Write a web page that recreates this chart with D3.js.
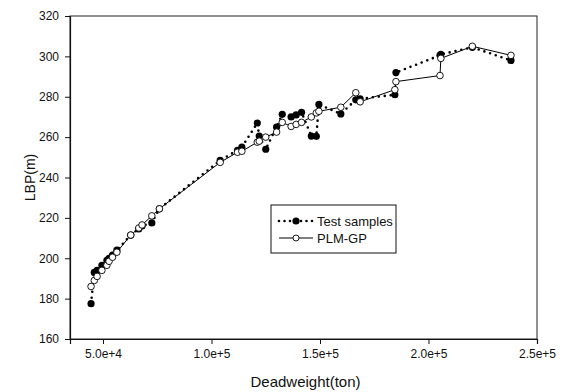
<!DOCTYPE html>
<html>
<head>
<meta charset="utf-8">
<script src="https://cdn.jsdelivr.net/npm/d3@7"></script>
<style>
  body { margin: 0; background: #fff; }
  svg { display: block; font-family: "Liberation Sans", Arial, sans-serif; }
</style>
</head>
<body>
<svg id="chart" width="566" height="392"></svg>
<script>
// values
const deadweight = [44500, 46000, 47300, 49500, 51800, 52800, 54400, 56400, 62800, 66500, 68000,
  72500, 76000, 104000, 112000, 114000, 121100, 122000, 125000, 130000, 132600, 136700, 139000,
  141500, 146000, 148300, 149500, 159600, 166500, 168500, 184500, 185000, 205300, 205700, 220200, 238000];
const testSamples = [177.5, 193, 194, 196.5, 199, 200, 201.5, 204, 211.5, 214.5, 216,
  217.5, 224.5, 248.5, 253.5, 255, 267, 260.5, 254, 265, 271.3, 270, 271,
  272.3, 260.5, 260.4, 276.2, 271.5, 278.5, 279, 281, 292, 300.5, 301, 304.5, 298];
const plmGp = [186, 189, 191, 194, 196.5, 198.5, 200.5, 203, 211.5, 215, 216.5,
  221, 224.5, 247.5, 252.5, 253, 257.5, 258, 260, 262.5, 267.3, 265.3, 266.3,
  267.3, 270, 272, 272.8, 274.8, 282, 277.5, 283.5, 287.5, 290.5, 299, 305, 300.5];

const xTicks = [50000, 100000, 150000, 200000, 250000];
const xTickLabels = [`5.0e+4`, `1.0e+5`, `1.5e+5`, `2.0e+5`, `2.5e+5`];
const yTicks = [160, 180, 200, 220, 240, 260, 280, 300, 320];
const legendLabels = [`Test samples`, `PLM-GP`];

const svg = d3.select(`#chart`);
const plot = { left: 70, right: 537, top: 16, bottom: 339 };

const x = d3.scaleLinear().domain([34800, 250000]).range([plot.left, plot.right]);
const y = d3.scaleLinear().domain([160, 320]).range([plot.bottom, plot.top]);

// frame
svg.append(`rect`)
  .attr(`x`, plot.left).attr(`y`, plot.top)
  .attr(`width`, plot.right - plot.left).attr(`height`, plot.bottom - plot.top)
  .attr(`fill`, `none`)
  .attr(`stroke`, `#222`)
  .attr(`stroke-width`, 1);

const xAxis = svg.append(`g`)
  .attr(`transform`, `translate(0,${plot.bottom})`)
  .call(d3.axisBottom(x).tickValues(xTicks).tickSize(5).tickPadding(5)
    .tickFormat((d, i) => xTickLabels[i]));
const yAxis = svg.append(`g`)
  .attr(`transform`, `translate(${plot.left},0)`)
  .call(d3.axisLeft(y).tickValues(yTicks).tickSize(5).tickPadding(6));

[xAxis, yAxis].forEach(g => {
  g.select(`.domain`).attr(`stroke`, `#111`).attr(`stroke-width`, 1.2);
  g.selectAll(`.tick line`).attr(`stroke`, `#111`);
  g.selectAll(`.tick text`)
    .attr(`fill`, `#111`)
    .style(`font-size`, `12px`)
    .style(`font-family`, `"Liberation Sans", Arial, sans-serif`);
});

svg.append(`text`)
  .attr(`x`, (plot.left + plot.right) / 2 + 2).attr(`y`, 387)
  .attr(`text-anchor`, `middle`)
  .style(`font-size`, `15px`)
  .attr(`fill`, `#111`)
  .text(`Deadweight(ton)`);

svg.append(`text`)
  .attr(`transform`, `translate(35,${(plot.top + plot.bottom) / 2}) rotate(-90)`)
  .attr(`text-anchor`, `middle`)
  .style(`font-size`, `14px`)
  .attr(`fill`, `#111`)
  .text(`LBP(m)`);

const points = deadweight.map((d, i) => ({ dw: d, test: testSamples[i], plm: plmGp[i] }));

svg.append(`path`)
  .datum(points)
  .attr(`fill`, `none`)
  .attr(`stroke`, `#000`)
  .attr(`stroke-width`, 1)
  .attr(`d`, d3.line().x(d => x(d.dw)).y(d => y(d.plm)));

svg.append(`path`)
  .datum(points)
  .attr(`fill`, `none`)
  .attr(`stroke`, `#000`)
  .attr(`stroke-width`, 2.6)
  .attr(`stroke-linecap`, `round`)
  .attr(`stroke-dasharray`, `0 6`)
  .attr(`d`, d3.line().x(d => x(d.dw)).y(d => y(d.test)));

svg.append(`g`).selectAll(`circle`)
  .data(points)
  .enter().append(`circle`)
    .attr(`cx`, d => x(d.dw))
    .attr(`cy`, d => y(d.test))
    .attr(`r`, 3.6)
    .attr(`fill`, `#000`);

svg.append(`g`).selectAll(`circle`)
  .data(points)
  .enter().append(`circle`)
    .attr(`cx`, d => x(d.dw))
    .attr(`cy`, d => y(d.plm))
    .attr(`r`, 3.3)
    .attr(`fill`, `#fff`)
    .attr(`stroke`, `#000`)
    .attr(`stroke-width`, 0.9);

// legend
const lg = svg.append(`g`);
lg.append(`rect`)
  .attr(`x`, 271).attr(`y`, 205)
  .attr(`width`, 125).attr(`height`, 48)
  .attr(`fill`, `#fff`)
  .attr(`stroke`, `#111`)
  .attr(`stroke-width`, 1);

lg.append(`line`)
  .attr(`x1`, 279).attr(`x2`, 313).attr(`y1`, 221).attr(`y2`, 221)
  .attr(`stroke`, `#000`).attr(`stroke-width`, 2.6)
  .attr(`stroke-linecap`, `round`).attr(`stroke-dasharray`, `0 5.5`);
lg.append(`circle`).attr(`cx`, 296).attr(`cy`, 221).attr(`r`, 3.6).attr(`fill`, `#000`);

lg.append(`line`)
  .attr(`x1`, 279).attr(`x2`, 313).attr(`y1`, 238).attr(`y2`, 238)
  .attr(`stroke`, `#000`).attr(`stroke-width`, 1);
lg.append(`circle`).attr(`cx`, 296).attr(`cy`, 238).attr(`r`, 3)
  .attr(`fill`, `#fff`).attr(`stroke`, `#000`).attr(`stroke-width`, 0.9);

lg.selectAll(`text`)
  .data(legendLabels)
  .enter().append(`text`)
    .attr(`x`, 317)
    .attr(`y`, (d, i) => 226 + i * 17)
    .style(`font-size`, `13px`)
    .attr(`fill`, `#111`)
    .text(d => d);
</script>
</body>
</html>
